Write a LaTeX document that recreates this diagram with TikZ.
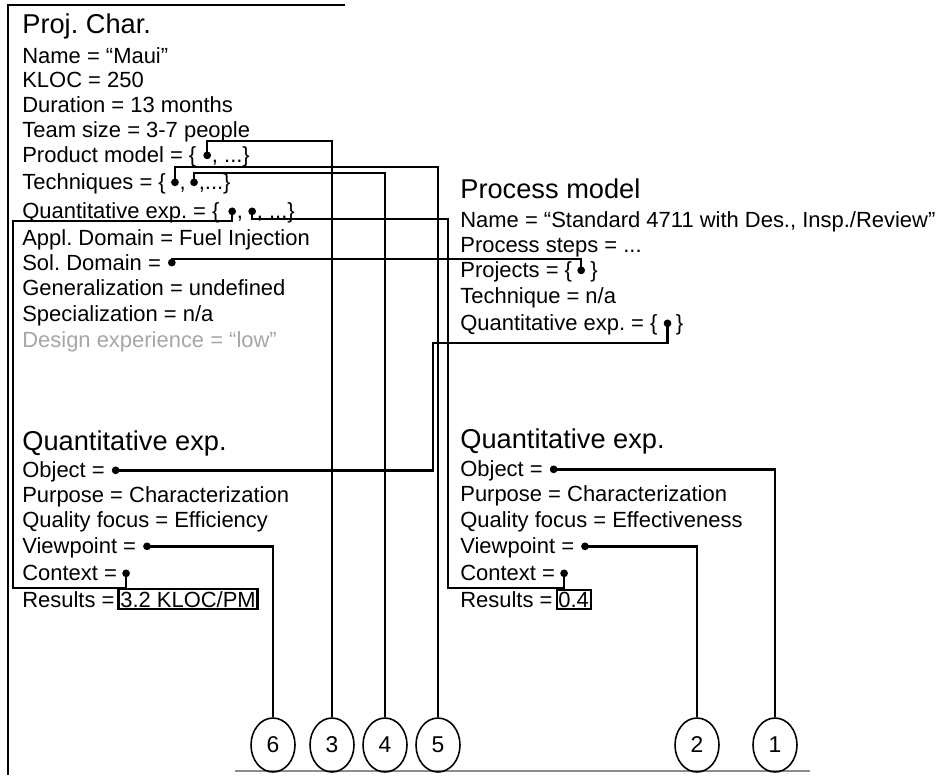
\documentclass[tikz,border=0pt]{standalone}
\usepackage{fontspec}
\setmainfont{Liberation Sans}
\usetikzlibrary{shapes.geometric}
\frenchspacing

\begin{document}
\begin{tikzpicture}[
    x=0.02cm, y=-0.02cm,
    txt/.style={anchor=base west, inner sep=0pt, font=\fontsize{12.5}{15}\selectfont},
    heading/.style={txt, font=\fontsize{15.5}{18}\selectfont},
    faded/.style={txt, text=black!35},
    dot/.style={circle, fill, inner sep=0pt, minimum size=4.4pt},
    result/.style={txt, draw, line width=1.2pt, inner sep=1pt},
    wire/.style={line width=1.35pt},
    tag/.style={ellipse, draw, line width=0.9pt, minimum width=0.88cm, minimum height=1.08cm, inner sep=0pt, font=\fontsize{13}{15}\selectfont}
]
\useasboundingbox (0,0) rectangle (939,775);

% Frame
\draw[line width=0.6pt] (345,5) -- (8,5) -- (8,775);
\draw[black!45, line width=0.8pt] (235,771) -- (810,771);

% Project characterization
\node[heading] (pc_title) at (22,33) {Proj. Char.};
\node[txt] (pc_name) at (22,63) {Name = “Maui”};
\node[txt] (pc_kloc) at (22,87) {KLOC = 250};
\node[txt] (pc_dur) at (22,112) {Duration = 13 months};
\node[txt] (pc_team) at (22,137) {Team size = 3-7 people};
\node[txt] (pc_prod) at (22,162) {Product model = \{};
\node[dot] (prod_dot) at ([xshift=6pt,yshift=3.8pt]pc_prod.base east) {};
\node[txt] (pc_prod_end) at ([xshift=8.5pt]pc_prod.base east) {, ...\}};
\node[txt] (pc_tech) at (22,189) {Techniques = \{};
\node[dot] (tech_dot_a) at ([xshift=5pt,yshift=3.8pt]pc_tech.base east) {};
\node[txt] (pc_tech_mid) at ([xshift=7.5pt]pc_tech.base east) {,};
\node[dot] (tech_dot_b) at ([xshift=4.5pt,yshift=3.8pt]pc_tech_mid.base east) {};
\node[txt] (pc_tech_end) at ([xshift=7pt]pc_tech_mid.base east) {,...\}};
\node[txt] (pc_qe) at (22,218) {Quantitative exp. = \{};
\node[dot] (qe_dot_a) at ([xshift=7pt,yshift=3.8pt]pc_qe.base east) {};
\node[txt] (pc_qe_mid) at ([xshift=9.5pt]pc_qe.base east) {,};
\node[dot] (qe_dot_b) at ([xshift=5pt,yshift=3.8pt]pc_qe_mid.base east) {};
\node[txt] (pc_qe_end) at ([xshift=7.5pt]pc_qe_mid.base east) {, ...\}};
\node[txt] (pc_appl) at (22,245) {Appl. Domain = Fuel Injection};
\node[txt] (pc_sol) at (22,270) {Sol. Domain =};
\node[dot] (sol_dot) at ([xshift=6pt,yshift=4.2pt]pc_sol.base east) {};
\node[txt] (pc_gen) at (22,295) {Generalization = undefined};
\node[txt] (pc_spec) at (22,321) {Specialization = n/a};
\node[faded] (pc_design) at (22,347) {Design experience = “low”};

% Quantitative experience (left)
\node[heading] (lq_title) at (22,450) {Quantitative exp.};
\node[txt] (lq_obj) at (22,477) {Object =};
\node[dot] (lq_obj_dot) at ([xshift=6pt,yshift=3.8pt]lq_obj.base east) {};
\node[txt] (lq_purp) at (22,502) {Purpose = Characterization};
\node[txt] (lq_qual) at (22,527) {Quality focus = Efficiency};
\node[txt] (lq_vp) at (22,553) {Viewpoint =};
\node[dot] (lq_vp_dot) at ([xshift=6pt,yshift=3.8pt]lq_vp.base east) {};
\node[txt] (lq_ctx) at (22,580) {Context =};
\node[dot] (lq_ctx_dot) at ([xshift=5pt,yshift=3.8pt]lq_ctx.base east) {};
\node[txt] (lq_res) at (22,607) {Results =};
\node[result] (lq_res_val) at ([xshift=1.5pt]lq_res.base east) {3.2 KLOC/PM};

% Process model
\node[heading] (pm_title) at (460,198) {Process model};
\node[txt] (pm_name) at (460,227) {Name = “Standard 4711 with Des., Insp./Review”};
\node[txt] (pm_steps) at (460,252) {Process steps = ...};
\node[txt] (pm_proj) at (460,277) {Projects = \{};
\node[dot] (proj_dot) at ([xshift=5pt,yshift=3.8pt]pm_proj.base east) {};
\node[txt] (pm_proj_end) at ([xshift=10pt]pm_proj.base east) {\}};
\node[txt] (pm_tech) at (460,303) {Technique = n/a};
\node[txt] (pm_qe) at (460,330) {Quantitative exp. = \{};
\node[dot] (pm_qe_dot) at ([xshift=5.5pt,yshift=3.8pt]pm_qe.base east) {};
\node[txt] (pm_qe_end) at ([xshift=10pt]pm_qe.base east) {\}};

% Quantitative experience (right)
\node[heading] (rq_title) at (460,448) {Quantitative exp.};
\node[txt] (rq_obj) at (460,476) {Object =};
\node[dot] (rq_obj_dot) at ([xshift=6pt,yshift=3.8pt]rq_obj.base east) {};
\node[txt] (rq_purp) at (460,501) {Purpose = Characterization};
\node[txt] (rq_qual) at (460,527) {Quality focus = Effectiveness};
\node[txt] (rq_vp) at (460,553) {Viewpoint =};
\node[dot] (rq_vp_dot) at ([xshift=6pt,yshift=3.8pt]rq_vp.base east) {};
\node[txt] (rq_ctx) at (460,580) {Context =};
\node[dot] (rq_ctx_dot) at ([xshift=5pt,yshift=3.8pt]rq_ctx.base east) {};
\node[txt] (rq_res) at (460,607) {Results =};
\node[result] (rq_res_val) at ([xshift=1.5pt]rq_res.base east) {0.4};

% Numbered tags
\node[tag] (tag6) at (273,745) {6};
\node[tag] (tag3) at (332,745) {3};
\node[tag] (tag4) at (385,745) {4};
\node[tag] (tag5) at (438,745) {5};
\node[tag] (tag2) at (697,745) {2};
\node[tag] (tag1) at (775,745) {1};

% Links
\draw[wire] (prod_dot.center) -- (prod_dot.center |- 0,141) -| (tag3);
\draw[wire] (tech_dot_b.center) -- (tech_dot_b.center |- 0,173) -| (tag4);
\draw[wire] (tech_dot_a.center) -- (tech_dot_a.center |- 0,167) -| (tag5);
\draw[wire] (qe_dot_a.center) -- (qe_dot_a.center |- 0,221) -| (13,588) -| (lq_ctx_dot.center);
\draw[wire] (qe_dot_b.center) -- (qe_dot_b.center |- 0,219) -| (448,588) -| (rq_ctx_dot.center);
\draw[wire] (sol_dot.center) |- (proj_dot.center |- 0,259) -- (proj_dot.center);
\draw[wire] (pm_qe_dot.center) |- (433,343) |- (lq_obj_dot.center);
\draw[wire] (lq_vp_dot.center) -| (tag6);
\draw[wire] (rq_obj_dot.center) -| (tag1);
\draw[wire] (rq_vp_dot.center) -| (tag2);

\end{tikzpicture}
\end{document}
